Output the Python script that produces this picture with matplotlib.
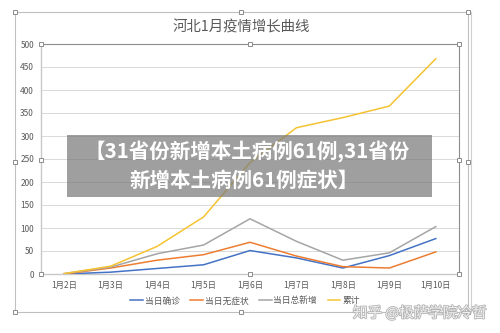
import matplotlib.pyplot as plt
from matplotlib.patches import Rectangle
import matplotlib.patheffects as pe

plt.rcParams['font.family'] = ['Noto Sans CJK SC', 'DejaVu Sans']

# daily figures for Hebei, January
dates = ['1月2日', '1月3日', '1月4日', '1月5日', '1月6日', '1月7日', '1月8日', '1月9日', '1月10日']
confirmed = [0, 4, 12, 20, 51, 35, 13, 40, 77]
asymptomatic = [0, 13, 30, 42, 69, 39, 16, 13, 48]
total_new = [1, 15, 44, 63, 120, 71, 30, 46, 103]
cumulative = [1, 17, 60, 124, 242, 318, 340, 365, 468]
series_names = ['当日确诊', '当日无症状', '当日总新增', '累计']
colors = ['#4472C4', '#ED7D31', '#A5A5A5', '#F5C332']

W, H = 500, 333
fig = plt.figure(figsize=(W / 100, H / 100), dpi=100)

def fx(px):
  return px / W

def fy(py):
  return 1 - py / H

ax = fig.add_axes([fx(41), fy(274), fx(459) - fx(41), fy(44) - fy(274)])
x = list(range(len(dates)))
for vals, name, c in zip([confirmed, asymptomatic, total_new, cumulative], series_names, colors):
  ax.plot(x, vals, color=c, lw=1.1, label=name, zorder=3)

ax.set_xlim(-0.5, len(dates) - 0.5)
ax.set_ylim(0, 500)
ax.set_yticks(range(0, 501, 50))
ax.set_xticks(x)
ax.set_xticklabels(dates)
ax.tick_params(length=0, labelsize=6, labelcolor='#595959', pad=5)
ax.grid(axis='y', color='#d9d9d9', lw=0.7)
ax.set_axisbelow(True)
for side in ['left', 'bottom']:
  ax.spines[side].set_color('#c8c8c8')
  ax.spines[side].set_linewidth(1.0)
for side in ['top', 'right']:
  ax.spines[side].set_color('#8c8c8c')
  ax.spines[side].set_linewidth(0.8)

fig.text(fx(241), fy(27), '河北1月疫情增长曲线', ha='center', va='center',
         fontsize=10.4, color='#595959')

fig.legend(loc='center', bbox_to_anchor=(fx(245), fy(301)), ncol=4, frameon=False,
           fontsize=6.3, labelcolor='#595959', handlelength=1.45, handletextpad=0.2,
           columnspacing=1.2)

# chart frame and selection handles
fig.add_artist(Rectangle((fx(15), fy(312)), fx(468) - fx(15), fy(12) - fy(312),
                         transform=fig.transFigure, fill=False, ec='#bfbfbf', lw=0.8))
fig.add_artist(plt.Line2D([fx(470.5), fx(470.5)], [fy(312), fy(12)],
                          transform=fig.transFigure, color='#cfcfcf', lw=0.8))

def handle(px, py, s=4.5):
  fig.add_artist(Rectangle((fx(px - s / 2), fy(py + s / 2)), s / W, s / H,
                           transform=fig.transFigure, fc='white', ec='#8c8c8c',
                           lw=0.7, zorder=6))

for hx, hy in [(15, 12), (241, 12), (468, 12), (15, 162), (468, 162),
               (15, 312), (241, 312), (468, 312),
               (41, 44), (250, 44), (459, 44), (41, 160), (459, 160),
               (41, 274), (250, 274), (459, 274)]:
  handle(hx, hy)

# caption banner
fig.add_artist(Rectangle((fx(67), fy(197)), fx(432) - fx(67), fy(135) - fy(197),
                         transform=fig.transFigure, fc='#7a7a7a', alpha=0.72,
                         ec='none', zorder=8))
fig.text(fx(247), fy(152), '【31省份新增本土病例61例,31省份', ha='center', va='center',
         fontsize=14.8, fontweight='bold', color='white', zorder=9)
fig.text(fx(244), fy(180), '新增本土病例61例症状】', ha='center', va='center',
         fontsize=14.8, fontweight='bold', color='white', zorder=9)

fig.text(fx(420), fy(313), '知乎 @极萨学院冷哲', ha='center', va='center',
         fontsize=10.5, color='#f0f0f0', zorder=9,
         path_effects=[pe.withStroke(linewidth=1.2, foreground='#b4b4b4')])

fig.savefig('out.png', dpi=100)
